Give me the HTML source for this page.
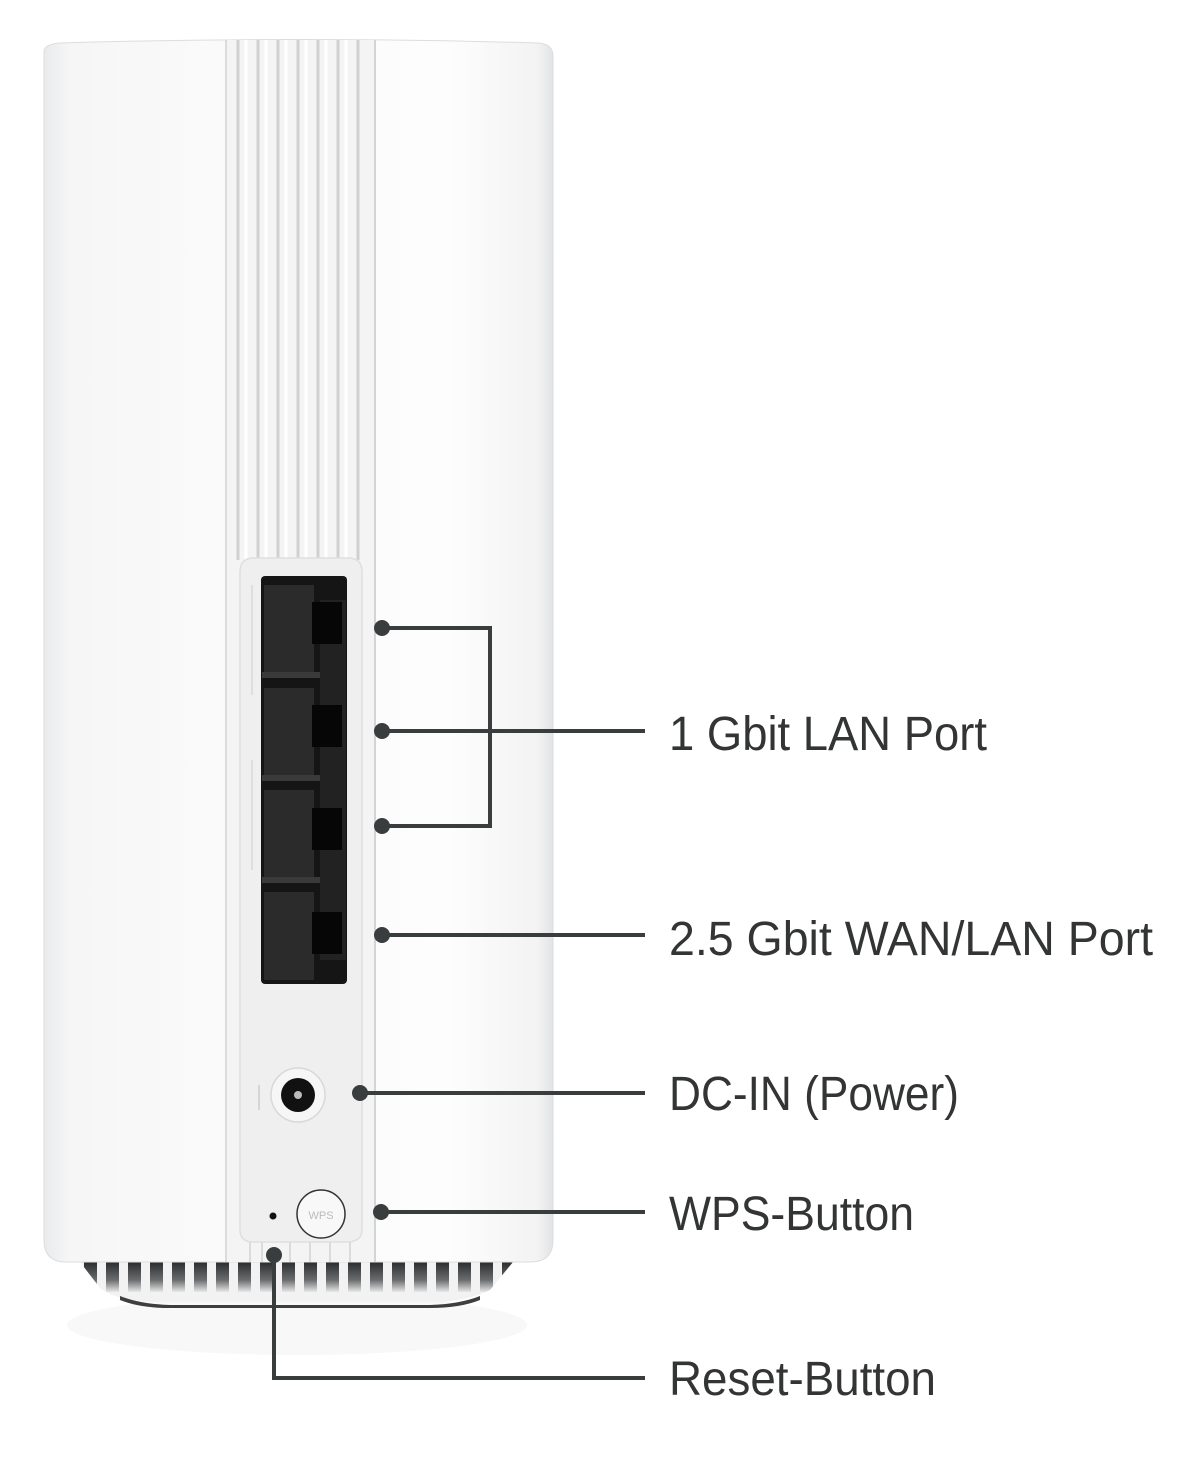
<!DOCTYPE html>
<html><head><meta charset="utf-8"><style>
html,body{margin:0;padding:0;background:#fff;}
svg{display:block;}
text{font-family:"Liberation Sans",sans-serif;fill:#333535;font-size:48px;}
</style></head><body>
<svg width="1179" height="1468" viewBox="0 0 1179 1468" xmlns="http://www.w3.org/2000/svg">
<defs>
<linearGradient id="body" x1="0" x2="1" y1="0" y2="0">
<stop offset="0" stop-color="#e9eaeb"/><stop offset="0.05" stop-color="#f6f6f7"/>
<stop offset="0.4" stop-color="#fbfbfb"/><stop offset="0.8" stop-color="#fdfdfd"/>
<stop offset="0.97" stop-color="#f3f3f4"/><stop offset="1" stop-color="#e2e3e4"/>
</linearGradient>
<linearGradient id="vent" x1="0" x2="0" y1="0" y2="1">
<stop offset="0" stop-color="#2a2c2d"/><stop offset="0.6" stop-color="#6a6c6e"/><stop offset="1" stop-color="#e8e8e8"/>
</linearGradient>
<pattern id="slats" width="22" height="40" patternUnits="userSpaceOnUse" x="80" y="1262">
<rect width="22" height="40" fill="#f2f2f2"/><rect x="4" width="13" height="30" fill="url(#vent)"/>
</pattern>
</defs>
<rect width="1179" height="1468" fill="#fff"/>
<ellipse cx="297" cy="1325" rx="230" ry="30" fill="#f8f8f8"/>
<path d="M80 1262 L513 1262 L490 1290 Q470 1300 440 1302 L150 1302 Q115 1300 100 1288 Z" fill="url(#slats)"/>
<path d="M120 1296 Q140 1304 170 1305 L430 1305 Q460 1304 480 1296 L480 1300 Q460 1308 430 1308 L170 1308 Q140 1308 120 1300Z" fill="#3c3e40"/>
<path d="M44 52 Q44 44 60 43 Q297 36 538 43 Q553 44 553 56 L553 1240 Q553 1262 530 1262 L66 1262 Q44 1262 44 1240 Z" fill="url(#body)" stroke="#dcdddd" stroke-width="1"/>
<rect x="226" y="40" width="150" height="1222" fill="#f4f4f5"/>
<line x1="226" y1="40" x2="226" y2="1262" stroke="#d0d1d2" stroke-width="1.5"/>
<line x1="375" y1="40" x2="375" y2="1262" stroke="#c8c9ca" stroke-width="1.5"/>
<g stroke="#cfd0d1" stroke-width="3">
<line x1="238" y1="40" x2="238" y2="560"/><line x1="258" y1="40" x2="258" y2="560"/>
<line x1="278" y1="40" x2="278" y2="560"/><line x1="298" y1="40" x2="298" y2="560"/>
<line x1="318" y1="40" x2="318" y2="560"/><line x1="338" y1="40" x2="338" y2="560"/>
<line x1="358" y1="40" x2="358" y2="560"/>
</g>
<g stroke="#ffffff" stroke-width="3">
<line x1="246" y1="40" x2="246" y2="560"/><line x1="266" y1="40" x2="266" y2="560"/>
<line x1="286" y1="40" x2="286" y2="560"/><line x1="306" y1="40" x2="306" y2="560"/>
<line x1="326" y1="40" x2="326" y2="560"/><line x1="346" y1="40" x2="346" y2="560"/>
</g>
<path d="M240 572 Q240 558 254 558 L348 558 Q362 558 362 572 L362 1230 Q362 1240 350 1242 L250 1242 Q240 1240 240 1230 Z" fill="#efeff0" stroke="#dedfe0" stroke-width="1.5"/>
<path d="M250 1242 L250 1262 M262 1242 L262 1262 M290 1242 L290 1262 M310 1242 L310 1262 M330 1242 L330 1262 M350 1242 L350 1262" stroke="#dadbdc" stroke-width="2"/>
<line x1="252" y1="585" x2="252" y2="695" stroke="#d8d8d8" stroke-width="1.5"/>
<line x1="252" y1="760" x2="252" y2="870" stroke="#d8d8d8" stroke-width="1.5"/>
<rect x="261" y="576" width="86" height="408" rx="4" fill="#151515"/>
<g fill="#2b2b2b">
<rect x="264" y="585" width="50" height="90"/><rect x="264" y="688" width="50" height="90"/>
<rect x="264" y="790" width="50" height="90"/><rect x="264" y="892" width="50" height="88"/>
</g>
<g fill="#3a3a3a">
<rect x="262" y="672" width="60" height="6"/><rect x="262" y="775" width="60" height="6"/><rect x="262" y="877" width="60" height="6"/>
<rect x="320" y="600" width="26" height="360" fill="#222"/>
</g>
<g fill="#060606">
<rect x="312" y="602" width="30" height="42"/><rect x="312" y="705" width="30" height="42"/>
<rect x="312" y="808" width="30" height="42"/><rect x="312" y="912" width="30" height="42"/>
</g>
<circle cx="298" cy="1095" r="27" fill="#f6f6f6" stroke="#d8d8d8" stroke-width="1.5"/>
<circle cx="298" cy="1095" r="17" fill="#111"/>
<circle cx="298" cy="1095" r="4" fill="#bbb"/>
<line x1="259" y1="1085" x2="259" y2="1110" stroke="#ccc" stroke-width="1.5"/>
<circle cx="321" cy="1214" r="24" fill="#f8f8f8" stroke="#333" stroke-width="1.5"/>
<text x="321" y="1219" text-anchor="middle" style="font-size:11px;fill:#bbb">WPS</text>
<circle cx="273" cy="1216" r="3.5" fill="#111"/>
<g stroke="#3a3d3d" stroke-width="4" fill="none">
<polyline points="382,628 490,628 490,826 382,826"/>
<line x1="382" y1="731" x2="645" y2="731"/>
<line x1="382" y1="935" x2="645" y2="935"/>
<line x1="360" y1="1093" x2="645" y2="1093"/>
<line x1="382" y1="1212" x2="645" y2="1212"/>
<polyline points="274,1255 274,1378 645,1378"/>
</g>
<g fill="#3a3d3d">
<circle cx="382" cy="628" r="8"/><circle cx="382" cy="731" r="8"/><circle cx="382" cy="826" r="8"/>
<circle cx="382" cy="935" r="8"/><circle cx="360" cy="1093" r="8"/><circle cx="381" cy="1212" r="8"/>
<circle cx="274" cy="1255" r="8"/>
</g>
<text x="669" y="750" textLength="318" lengthAdjust="spacingAndGlyphs">1 Gbit LAN Port</text>
<text x="669" y="955" textLength="484" lengthAdjust="spacingAndGlyphs">2.5 Gbit WAN/LAN Port</text>
<text x="669" y="1110" textLength="290" lengthAdjust="spacingAndGlyphs">DC-IN (Power)</text>
<text x="669" y="1230" textLength="245" lengthAdjust="spacingAndGlyphs">WPS-Button</text>
<text x="669" y="1395" textLength="267" lengthAdjust="spacingAndGlyphs">Reset-Button</text>
</svg>
</body></html>
